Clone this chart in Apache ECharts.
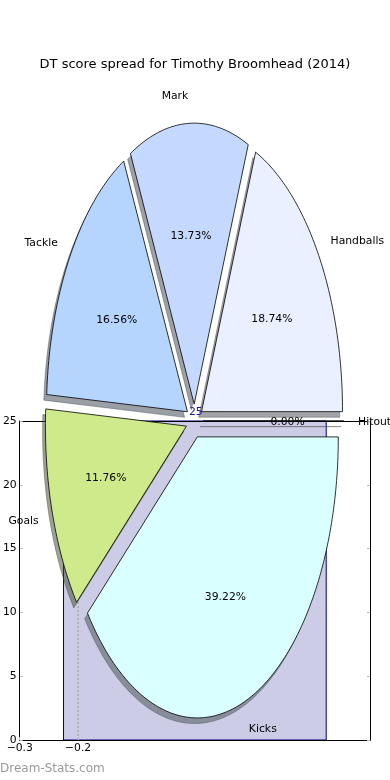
<!DOCTYPE html>
<html>
<head>
<meta charset="utf-8">
<script src="https://cdn.jsdelivr.net/npm/echarts@6/dist/echarts.min.js"></script>
<style>html,body{margin:0;padding:0;background:#fff;}#main{width:390px;height:780px;}</style>
</head>
<body>
<div id="main"></div>
<script>
// ---- data ----
const categories = ['Handballs', 'Mark', 'Tackle', 'Goals', 'Kicks', 'Hitout'];
const sliceValues = [18.74, 13.73, 16.56, 11.76, 39.22, 0.00];
const sliceColors = ['#EAF0FF', '#C5D9FF', '#B5D5FF', '#CFEA8A', '#D9FFFF', '#FFD8D8'];
const barX = [0];
const barValues = [25];
const refLineX = [-0.2];
const yTickValues = [0, 5, 10, 15, 20, 25];
const xTickValues = [-0.3, -0.2];
const xTickLabels = ['\u22120.3', '\u22120.2'];

// ---- pie geometry constants (matplotlib-like) ----
const EXPLODE = 0.06, LABEL_DIST = 1.1, PCT_DIST = 0.6, SH_DX = -0.02, SH_DY = -0.02;
const BAR_WIDTH = 0.45;
const FONT = '"DejaVu Sans", sans-serif';
const FS = 10.8;

const total = sliceValues.reduce((a, b) => a + b, 0);
function geom(i) {
  let start = 0;
  for (let k = 0; k < i; k++) start += sliceValues[k] / total * 360;
  const end = start + sliceValues[i] / total * 360;
  const mid = (start + end) / 2 * Math.PI / 180;
  return { start, end, mid, ox: EXPLODE * Math.cos(mid), oy: EXPLODE * Math.sin(mid) };
}
function wedgePoints(api, i, dx, dy) {
  const g = geom(i);
  const pts = [api.coord([g.ox + dx, g.oy + dy])];
  const n = Math.max(2, Math.ceil((g.end - g.start) / 1));
  for (let s = 0; s <= n; s++) {
    const t = (g.start + (g.end - g.start) * s / n) * Math.PI / 180;
    pts.push(api.coord([g.ox + dx + Math.cos(t), g.oy + dy + Math.sin(t)]));
  }
  return pts;
}
function hexToRgb(h) {
  return [parseInt(h.substr(1, 2), 16), parseInt(h.substr(3, 2), 16), parseInt(h.substr(5, 2), 16)];
}

const chart = echarts.init(document.getElementById('main'), null, { renderer: 'canvas' });
const pieData = sliceValues.map((v, i) => [0, 0, v]);

const option = {
  animation: false,
  backgroundColor: '#fff',
  title: {
    text: 'DT score spread for Timothy Broomhead (2014)',
    left: 'center', top: 53,
    textStyle: { fontFamily: FONT, fontSize: 13, fontWeight: 'normal', color: '#000' }
  },
  graphic: [{
    type: 'text', left: 0, top: 763, z: 100,
    style: { text: 'Dream-Stats.com', font: '12px ' + FONT, fill: '#999999' }
  }],
  grid: [
    { left: 19, top: 421, width: 351, height: 319, show: false },
    { left: 194.5 - 1.35 * 141, top: 421 - 1.3 * 281, width: 2.7 * 141, height: 2.55 * 281, show: false }
  ],
  xAxis: [
    {
      gridIndex: 0, type: 'value', min: -0.3, max: 0.3, interval: 0.1, z: 3,
      axisLine: { show: true, onZero: false, lineStyle: { color: '#000', width: 1 } },
      axisTick: { show: true, inside: true, length: 3, customValues: xTickValues, lineStyle: { color: '#bbb' } },
      axisLabel: {
        customValues: xTickValues, margin: 3,
        formatter: v => { const k = xTickValues.findIndex(t => Math.abs(t - v) < 1e-6); return k >= 0 ? xTickLabels[k] : ''; },
        fontFamily: FONT, fontSize: FS, color: '#000'
      },
      splitLine: { show: false }
    },
    {
      gridIndex: 0, type: 'value', min: -0.3, max: 0.3, position: 'top', z: 3,
      axisLine: { show: true, onZero: false, lineStyle: { color: '#000', width: 1 } },
      axisTick: { show: false }, axisLabel: { show: false }, splitLine: { show: false }
    },
    { gridIndex: 1, type: 'value', min: -1.35, max: 1.35, show: false }
  ],
  yAxis: [
    {
      gridIndex: 0, type: 'value', min: 0, max: 25, interval: 5, z: 3,
      axisLine: { show: true, onZero: false, lineStyle: { color: '#000', width: 1 } },
      axisTick: { show: true, inside: true, length: 3, lineStyle: { color: '#bbb' } },
      axisLabel: { margin: 3, fontFamily: FONT, fontSize: FS, color: '#000', formatter: v => yTickValues.includes(v) ? String(v) : '' },
      splitLine: { show: false }
    },
    {
      gridIndex: 0, type: 'value', min: 0, max: 25, interval: 5, position: 'right', z: 3,
      axisLine: { show: true, onZero: false, lineStyle: { color: '#000', width: 1 } },
      axisTick: { show: true, inside: true, length: 3, lineStyle: { color: '#bbb' } },
      axisLabel: { show: false }, splitLine: { show: false }
    },
    { gridIndex: 1, type: 'value', min: -1.25, max: 1.3, show: false }
  ],
  series: [
    {
      type: 'custom', name: 'bar', xAxisIndex: 0, yAxisIndex: 0, z: 1,
      data: barX.map((x, i) => [x, barValues[i]]),
      renderItem: (params, api) => {
        const x = api.value(0), v = api.value(1);
        const p0 = api.coord([x - BAR_WIDTH / 2, 0]);
        const p1 = api.coord([x + BAR_WIDTH / 2, v]);
        return {
          type: 'rect', shape: { x: p0[0], y: p1[1], width: p1[0] - p0[0], height: p0[1] - p1[1] },
          style: { fill: 'rgba(0,0,128,0.2)', stroke: '#000080', lineWidth: 1 }
        };
      }
    },
    {
      type: 'line', name: 'ref', xAxisIndex: 0, yAxisIndex: 0, z: 2, symbol: 'none',
      data: [[refLineX[0], 0], [refLineX[0], barValues[0]]],
      lineStyle: { type: [2, 2], color: '#aaaaaa', width: 1.5 }
    },
    {
      type: 'custom', name: 'shadows', xAxisIndex: 2, yAxisIndex: 2, z: 4,
      data: pieData,
      renderItem: (params, api) => {
        const i = params.dataIndex;
        const c = hexToRgb(sliceColors[i]).map(x => Math.round(x * 0.3));
        return {
          type: 'polygon', shape: { points: wedgePoints(api, i, SH_DX, SH_DY) },
          style: { fill: `rgba(${c[0]},${c[1]},${c[2]},0.5)`, stroke: `rgba(${c[0]},${c[1]},${c[2]},0.5)`, lineWidth: 0.8 }
        };
      }
    },
    {
      type: 'custom', name: 'wedges', xAxisIndex: 2, yAxisIndex: 2, z: 5,
      data: pieData,
      renderItem: (params, api) => {
        const i = params.dataIndex;
        return {
          type: 'polygon', shape: { points: wedgePoints(api, i, 0, 0) },
          style: { fill: sliceColors[i], stroke: '#000', lineWidth: 0.8 }
        };
      }
    },
    {
      type: 'custom', name: 'labels', xAxisIndex: 2, yAxisIndex: 2, z: 6,
      data: pieData,
      renderItem: (params, api) => {
        const i = params.dataIndex;
        const g = geom(i);
        const lx = g.ox + LABEL_DIST * Math.cos(g.mid), ly = g.oy + LABEL_DIST * Math.sin(g.mid);
        const px = g.ox + PCT_DIST * Math.cos(g.mid), py = g.oy + PCT_DIST * Math.sin(g.mid);
        const lp = api.coord([lx, ly]), pp = api.coord([px, py]);
        const pct = (api.value(2) / total * 100).toFixed(2) + '%';
        return {
          type: 'group', children: [
            { type: 'text', style: { text: categories[i], x: lp[0], y: lp[1] + 1, align: lx > 0 ? 'left' : 'right', verticalAlign: 'middle', font: FS + 'px ' + FONT, fill: '#000' } },
            { type: 'text', style: { text: pct, x: pp[0], y: pp[1] + 1, align: 'center', verticalAlign: 'middle', font: FS + 'px ' + FONT, fill: '#000' } }
          ]
        };
      }
    },
    {
      type: 'custom', name: 'barLabel', xAxisIndex: 0, yAxisIndex: 0, z: 7,
      data: barX.map((x, i) => [x, barValues[i]]),
      renderItem: (params, api) => {
        const p = api.coord([api.value(0), api.value(1)]);
        return { type: 'text', style: { text: String(api.value(1)), x: p[0] + 1, y: p[1] - 9, align: 'center', verticalAlign: 'middle', font: FS + 'px ' + FONT, fill: '#1a1a90' } };
      }
    }
  ]
};
chart.setOption(option);
</script>
</body>
</html>
